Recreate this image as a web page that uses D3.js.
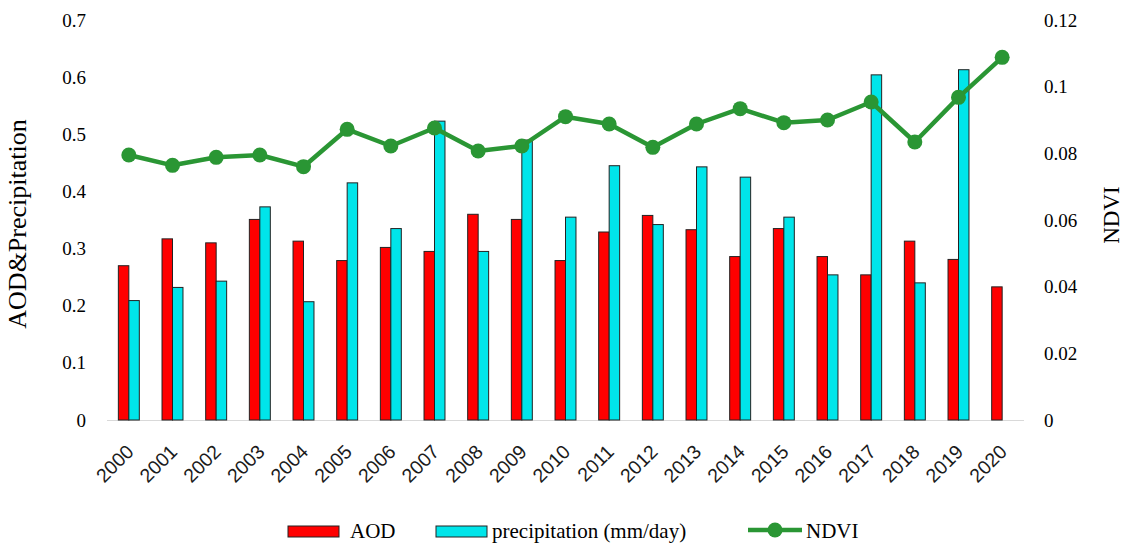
<!DOCTYPE html>
<html>
<head>
<meta charset="utf-8">
<script src="https://cdn.jsdelivr.net/npm/d3@7/dist/d3.min.js"></script>
<style>
  html, body { margin: 0; padding: 0; background: #fff; }
  svg { display: block; }
  .serif { font-family: "Liberation Serif", "Times New Roman", serif; fill: #000; }
  .sans { font-family: "Liberation Sans", Arial, sans-serif; fill: #1a1a1a; }
</style>
</head>
<body>
<svg id="chart" width="1126" height="543"></svg>
<script>
// Yearly series
const years = ["2000","2001","2002","2003","2004","2005","2006","2007","2008","2009","2010",
               "2011","2012","2013","2014","2015","2016","2017","2018","2019","2020"];
const aod = [0.270, 0.317, 0.310, 0.351, 0.313, 0.279, 0.302, 0.295, 0.360, 0.351, 0.279,
             0.329, 0.358, 0.333, 0.286, 0.335, 0.286, 0.254, 0.313, 0.281, 0.233];
const precipitation = [0.209, 0.232, 0.243, 0.373, 0.207, 0.415, 0.335, 0.523, 0.295, 0.490, 0.355,
                       0.445, 0.342, 0.443, 0.425, 0.355, 0.254, 0.604, 0.240, 0.613, null];
const ndvi = [0.0795, 0.0764, 0.0788, 0.0795, 0.0760, 0.0872, 0.0822, 0.0876, 0.0807, 0.0822, 0.0910,
              0.0888, 0.0818, 0.0888, 0.0934, 0.0892, 0.0900, 0.0954, 0.0834, 0.0968, 0.1088];
const leftTicks = [0, 0.1, 0.2, 0.3, 0.4, 0.5, 0.6, 0.7];
const rightTicks = [0, 0.02, 0.04, 0.06, 0.08, 0.1, 0.12];

const colors = { aod: "#ff0000", precip: "#00e5ea", ndvi: "#2a9634", edge: "#222" };

const svg = d3.select("#chart");
const plot = { left: 107, right: 1024, top: 20, bottom: 420 };

const x = d3.scaleBand().domain(years).range([plot.left, plot.right]);
const yL = d3.scaleLinear().domain([0, 0.7]).range([plot.bottom, plot.top]);
const yR = d3.scaleLinear().domain([0, 0.12]).range([plot.bottom, plot.top]);
const barW = x.bandwidth() * 0.24;

// Baseline
svg.append("line")
  .attr("x1", plot.left).attr("x2", plot.right)
  .attr("y1", plot.bottom + 0.5).attr("y2", plot.bottom + 0.5)
  .attr("stroke", "#d9d9d9").attr("stroke-width", 1.2);

// Left axis (labels only)
const leftAxis = d3.axisLeft(yL).tickValues(leftTicks).tickSize(0).tickPadding(0)
  .tickFormat(d => d === 0 ? "0" : d3.format(".1f")(d));
const gl = svg.append("g").attr("transform", `translate(${plot.left - 21},0)`).call(leftAxis);
gl.select(".domain").remove();
gl.selectAll("text").attr("class", "serif").attr("font-size", 19);

// Right axis (labels only)
const rightAxis = d3.axisRight(yR).tickValues(rightTicks).tickSize(0).tickPadding(0)
  .tickFormat(d => d === 0 ? "0" : String(+d.toFixed(2)));
const gr = svg.append("g").attr("transform", `translate(${plot.right + 20},0)`).call(rightAxis);
gr.select(".domain").remove();
gr.selectAll("text").attr("class", "serif").attr("font-size", 19);

// Bars
const bars = svg.append("g");
bars.selectAll("rect.aod").data(years).join("rect")
  .attr("class", "aod")
  .attr("x", d => x(d) + x.bandwidth() / 2 - barW)
  .attr("width", barW)
  .attr("y", (d, i) => yL(aod[i]))
  .attr("height", (d, i) => yL(0) - yL(aod[i]))
  .attr("fill", colors.aod).attr("stroke", colors.edge).attr("stroke-width", 1);
bars.selectAll("rect.precip").data(years.filter((d, i) => precipitation[i] != null)).join("rect")
  .attr("class", "precip")
  .attr("x", d => x(d) + x.bandwidth() / 2)
  .attr("width", barW)
  .attr("y", d => yL(precipitation[years.indexOf(d)]))
  .attr("height", d => yL(0) - yL(precipitation[years.indexOf(d)]))
  .attr("fill", colors.precip).attr("stroke", colors.edge).attr("stroke-width", 1);

// NDVI line with markers
const cx = d => x(d) + x.bandwidth() / 2;
const line = d3.line().x((d, i) => cx(years[i])).y(d => yR(d));
svg.append("path").datum(ndvi)
  .attr("d", line).attr("fill", "none")
  .attr("stroke", colors.ndvi).attr("stroke-width", 4.5).attr("stroke-linejoin", "round");
svg.append("g").selectAll("circle").data(ndvi).join("circle")
  .attr("cx", (d, i) => cx(years[i])).attr("cy", d => yR(d)).attr("r", 7.5)
  .attr("fill", colors.ndvi);

// Category labels
svg.append("g").selectAll("text").data(years).join("text")
  .attr("class", "sans")
  .attr("transform", d => `translate(${cx(d) + 6},${plot.bottom + 33}) rotate(-45)`)
  .attr("text-anchor", "end")
  .attr("font-size", 19.5)
  .text(d => d);

// Axis titles
svg.append("text").attr("class", "serif")
  .attr("transform", `translate(26,224) rotate(-90)`)
  .attr("text-anchor", "middle").attr("font-size", 26)
  .text("AOD&Precipitation");
svg.append("text").attr("class", "serif")
  .attr("transform", `translate(1119,215) rotate(-90)`)
  .attr("text-anchor", "middle").attr("font-size", 23)
  .text("NDVI");

// Legend
const lg = svg.append("g");
lg.append("rect").attr("x", 288).attr("y", 526).attr("width", 51).attr("height", 11)
  .attr("fill", colors.aod).attr("stroke", colors.edge).attr("stroke-width", 1);
lg.append("text").attr("class", "serif").attr("x", 350).attr("y", 538).attr("font-size", 21).text("AOD");
lg.append("rect").attr("x", 436).attr("y", 526).attr("width", 51).attr("height", 11)
  .attr("fill", colors.precip).attr("stroke", colors.edge).attr("stroke-width", 1);
lg.append("text").attr("class", "serif").attr("x", 492).attr("y", 538).attr("font-size", 21).text("precipitation (mm/day)");
lg.append("line").attr("x1", 748).attr("x2", 802).attr("y1", 530).attr("y2", 530)
  .attr("stroke", colors.ndvi).attr("stroke-width", 4.5);
lg.append("circle").attr("cx", 775).attr("cy", 530).attr("r", 7.5).attr("fill", colors.ndvi);
lg.append("text").attr("class", "serif").attr("x", 806).attr("y", 538).attr("font-size", 21).text("NDVI");
</script>
</body>
</html>
